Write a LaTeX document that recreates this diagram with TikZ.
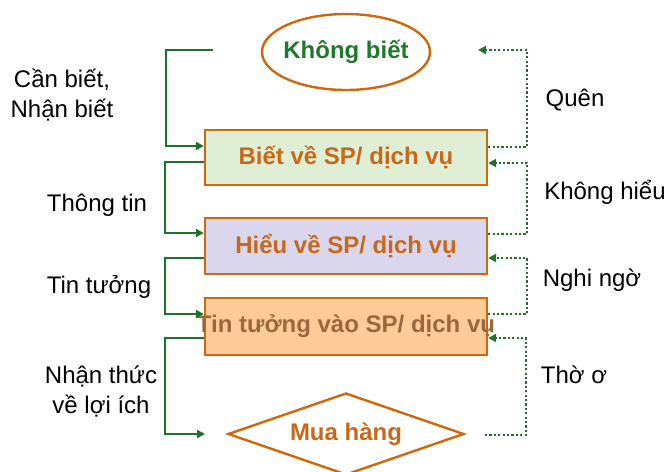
\documentclass[tikz,border=0pt]{standalone}
\usepackage{fontspec}
\setmainfont{Liberation Sans}
\usetikzlibrary{shapes.geometric,arrows.meta}
\definecolor{dgreen}{RGB}{30,112,42}
\definecolor{tgreen}{RGB}{32,120,44}
\definecolor{borange}{RGB}{206,104,12}
\definecolor{torange}{RGB}{200,104,26}
\definecolor{fillA}{RGB}{222,239,213}
\definecolor{fillB}{RGB}{217,214,238}
\definecolor{fillC}{RGB}{255,204,153}
\definecolor{tbrown}{RGB}{154,104,58}
\tikzset{
  every node/.style={font=\fontsize{24}{30}\selectfont},
  bfont/.style={font=\fontsize{24}{30}\selectfont\bfseries},
  stagebox/.style={draw=borange, line width=2.4pt, minimum width=282pt, inner sep=0pt, bfont, text=torange},
  solidarrow/.style={draw=dgreen, line width=2.6pt, -{Triangle[length=8pt,width=8pt]}},
  dotarrow/.style={draw=dgreen, line width=2.3pt, dash pattern=on 2.2pt off 2.2pt, -{Triangle[length=8pt,width=8pt,sep=0pt]}},
  lbl/.style={align=center, text=black}
}
\begin{document}
\begin{tikzpicture}[x=1pt,y=-1pt]
\useasboundingbox (0,0) rectangle (669,471);
% main stages
\node[ellipse, draw=borange, line width=2.4pt, minimum width=168pt, minimum height=76pt, inner sep=0pt, label={[text=tgreen, bfont]center:Không biết}] (kb) at (346,52) {};
\node[stagebox, fill=fillA, minimum height=55pt] (b1) at (346,157.5) {Biết về SP/ dịch vụ};
\node[stagebox, fill=fillB, minimum height=56pt] (b2) at (346,246) {Hiểu về SP/ dịch vụ};
\node[stagebox, fill=fillC, minimum height=57pt, label={[text=tbrown, bfont]center:Tin tưởng vào SP/ dịch vụ}] (b3) at (346,326.5) {};
\node[diamond, draw=borange, line width=2.4pt, aspect=2.88, minimum width=236pt, minimum height=82pt, inner sep=0pt, text=torange, bfont] (mh) at (346,434) {Mua hàng};
% free ends
\coordinate (s1) at (213,50);
\coordinate (e4) at (205,434);
\coordinate (q1) at (478,50);
\coordinate (t1) at (485,435);
% left solid connectors
\draw[solidarrow] (s1) -- (166,50) |- ([yshift=11.5pt]b1.west);
\draw[solidarrow] ([yshift=-4.5pt]b1.west) -- ++(-39,0) |- ([yshift=13pt]b2.west);
\draw[solidarrow] ([yshift=-12pt]b2.west) -- ++(-39,0) |- ([yshift=12.5pt]b3.west);
\draw[solidarrow] ([yshift=-11.5pt]b3.west) -- ++(-39,0) |- (e4);
% right dotted connectors
\draw[dotarrow] ([yshift=10.5pt]b1.east) -- ++(39,0) |- (q1);
\draw[dotarrow] ([yshift=12pt]b2.east) -- ++(39,0) |- ([yshift=-5.5pt]b1.east);
\draw[dotarrow] ([yshift=12.5pt]b3.east) -- ++(39,0) |- ([yshift=-12pt]b2.east);
\draw[dotarrow] (t1) -- (526,435) |- ([yshift=-11.5pt]b3.east);
% labels
\node[lbl] (l1) at (62,95) {Cần biết,\\Nhận biết};
\node[lbl] (l2) at (97,205) {Thông tin};
\node[lbl] (l3) at (99,287) {Tin tưởng};
\node[lbl] (l4) at (101,391) {Nhận thức\\về lợi ích};
\node[lbl] (r1) at (575,100) {Quên};
\node[lbl] (r2) at (605,192) {Không hiểu};
\node[lbl] (r3) at (592,280) {Nghi ngờ};
\node[lbl] (r4) at (574,375) {Thờ ơ};
\end{tikzpicture}
\end{document}
